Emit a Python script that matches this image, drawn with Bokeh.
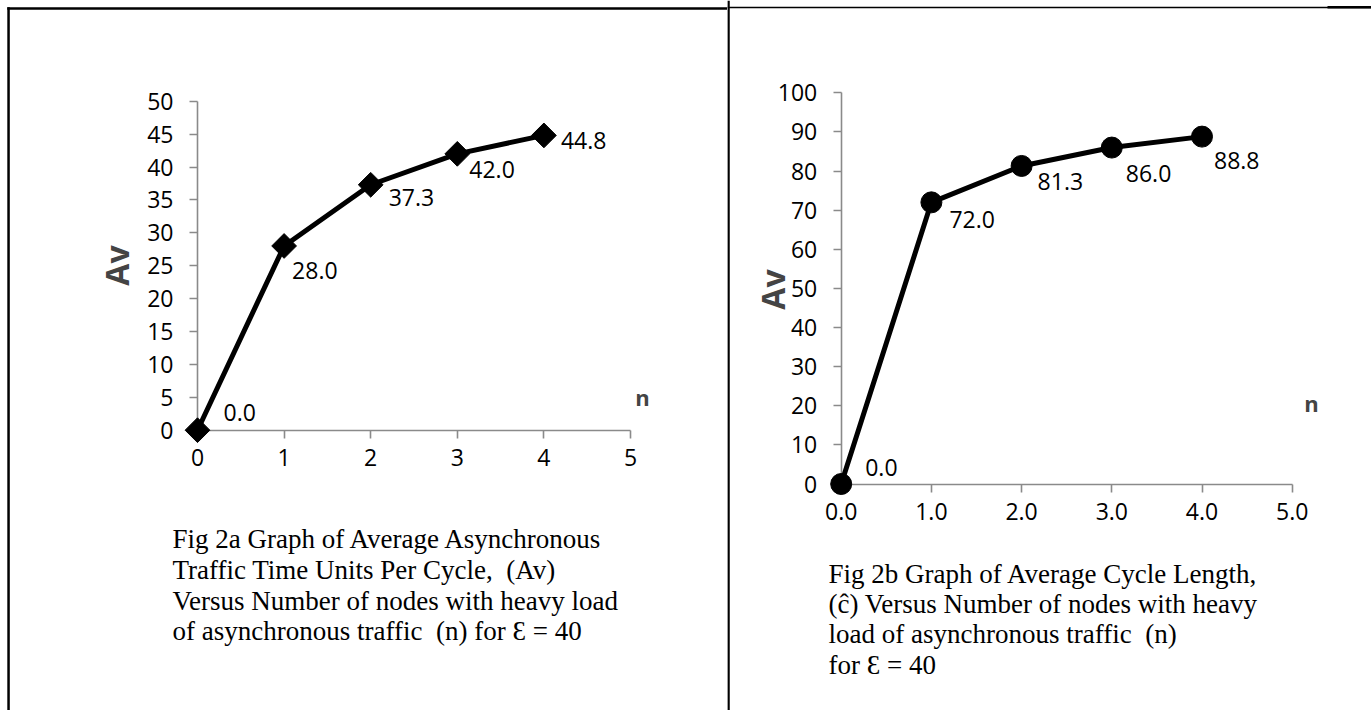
import numpy as np
from bokeh.plotting import figure
from bokeh.models import (Range1d, FixedTicker, Label, Span, BoxAnnotation,
                          ColumnDataSource, PrintfTickFormatter)
from bokeh.layouts import row
from bokeh.embed import file_html
from bokeh.resources import INLINE
from bokeh.core.properties import value

# ---------------- data ----------------
nodes_a = [0, 1, 2, 3, 4]
av_a = [0.0, 28.0, 37.3, 42.0, 44.8]
nodes_b = [0, 1, 2, 3, 4]
cycle_b = [0.0, 72.0, 81.3, 86.0, 88.8]

xticks_a = [0, 1, 2, 3, 4, 5]
yticks_a = [0, 5, 10, 15, 20, 25, 30, 35, 40, 45, 50]
xticks_b = [0, 1, 2, 3, 4, 5]
yticks_b = [0, 10, 20, 30, 40, 50, 60, 70, 80, 90, 100]

ylabel_a = "Av"
ylabel_b = "Av"
xlabel = "n"

NB = "\u00a0"
caption_a = [
    "Fig 2a Graph of Average Asynchronous",
    "Traffic Time Units Per Cycle," + NB + " (Av)",
    "Versus Number of nodes with heavy load",
    "of asynchronous traffic" + NB + " (n) for \u0190 = 40",
]
caption_b = [
    "Fig 2b Graph of Average Cycle Length,",
    "(c\u0302) Versus Number of nodes with heavy",
    "load of asynchronous traffic" + NB + " (n)",
    "for \u0190 = 40",
]

# ---------------- styles / layout ----------------
H = 710
SANS = "Open Sans"
SERIF = "Liberation Serif"
AXIS_COLOR = "#8a8a8a"
TICK_FONT = "23px"

# per-point data-label offsets (px, y down)
dx_a = [26, 8, 18, 12, 17]
dy_a = [-18, 25, 13, 16, 5]
dx_b = [24, 18, 16, 14, 12]
dy_b = [-17, 17, 16, 26, 24]


def make_panel(width, page_ox, page_oy, x0_page, y0_page, ppx, ppy):
    x0 = x0_page - page_ox
    y0 = y0_page - page_oy
    xr = Range1d(-x0 / ppx, (width - x0) / ppx)
    yr = Range1d(-(H - y0) / ppy, y0 / ppy)
    p = figure(width=width, height=H, x_range=xr, y_range=yr,
               output_backend="svg", toolbar_location=None,
               min_border=0, min_border_left=0, min_border_right=0,
               min_border_top=0, min_border_bottom=0)
    p.outline_line_color = None
    p.grid.visible = False
    p.background_fill_color = "white"
    p.border_fill_color = "white"

    def X(px):
        return (px - x0_page) / ppx

    def Y(py):
        return (y0_page - py) / ppy

    return p, X, Y


def style_axes(p, xt, yt, xfmt=None):
    xa = p.xaxis[0]
    ya = p.yaxis[0]
    xa.fixed_location = 0
    ya.fixed_location = 0
    xa.bounds = (min(xt), max(xt))
    ya.bounds = (min(yt), max(yt))
    xa.ticker = FixedTicker(ticks=xt)
    ya.ticker = FixedTicker(ticks=yt)
    if xfmt:
        xa.formatter = PrintfTickFormatter(format=xfmt)
    for ax in (xa, ya):
        ax.axis_line_color = AXIS_COLOR
        ax.axis_line_width = 1.6
        ax.major_tick_line_color = AXIS_COLOR
        ax.major_tick_line_width = 1.6
        ax.major_tick_in = 0
        ax.major_tick_out = 8
        ax.minor_tick_line_color = None
        ax.major_label_text_font = SANS
        ax.major_label_text_font_size = TICK_FONT
        ax.major_label_text_color = "#000000"
    xa.major_label_standoff = 11
    ya.major_label_standoff = 16


# ---------------- left panel (page origin 0,0) ----------------
pa, XA, YA = make_panel(727, 0, 0, 197.0, 429.7, (630.0 - 197.0) / 5, (429.7 - 100.7) / 50)
style_axes(pa, xticks_a, yticks_a)
src_a = ColumnDataSource(dict(x=nodes_a, y=av_a, t=[f"{v:.1f}" for v in av_a], dx=dx_a, dy=dy_a))
pa.line("x", "y", source=src_a, line_color="black", line_width=5, level="overlay")
pa.scatter("x", "y", source=src_a, marker="square", angle=np.pi / 4, size=17.5,
           fill_color="black", line_color="black", level="overlay")
pa.text("x", "y", text="t", x_offset="dx", y_offset="dy", source=src_a,
        text_font=value(SANS), text_font_size=value(TICK_FONT),
        text_align="left", text_baseline="middle", text_color="black")
pa.add_layout(Label(x=XA(116), y=YA(265), text=ylabel_a, angle=np.pi / 2,
                    text_font=SANS, text_font_style="bold", text_font_size="32px",
                    text_align="center", text_baseline="middle"))
pa.add_layout(Label(x=XA(642), y=YA(396), text=xlabel, text_font=SANS,
                    text_font_style="bold", text_font_size="22px",
                    text_align="center", text_baseline="middle"))
for i, line in enumerate(caption_a):
    pa.add_layout(Label(x=XA(172), y=YA(538.5 + 30.8 * i), text=line, text_font=SERIF,
                        text_font_size="27px", text_baseline="alphabetic",
                        text_align="left", text_color="black"))
# cell borders
pa.add_layout(BoxAnnotation(left=XA(6.8), right=XA(9.3), top=YA(6.8),
                            fill_color="black", fill_alpha=1, line_color=None))
pa.add_layout(BoxAnnotation(left=XA(6.8), top=YA(6.8), bottom=YA(9.3),
                            fill_color="black", fill_alpha=1, line_color=None))

# ---------------- right panel ----------------
pb, XB, YB = make_panel(644, 727, 0, 840.7, 483.5, (1291.7 - 840.7) / 5, (483.5 - 92.3) / 100)
style_axes(pb, xticks_b, yticks_b, xfmt="%.1f")
src_b = ColumnDataSource(dict(x=nodes_b, y=cycle_b, t=[f"{v:.1f}" for v in cycle_b], dx=dx_b, dy=dy_b))
pb.line("x", "y", source=src_b, line_color="black", line_width=5, level="overlay")
pb.scatter("x", "y", source=src_b, marker="circle", size=21,
           fill_color="black", line_color="black", level="overlay")
pb.text("x", "y", text="t", x_offset="dx", y_offset="dy", source=src_b,
        text_font=value(SANS), text_font_size=value(TICK_FONT),
        text_align="left", text_baseline="middle", text_color="black")
pb.add_layout(Label(x=XB(772), y=YB(289), text=ylabel_b, angle=np.pi / 2,
                    text_font=SANS, text_font_style="bold", text_font_size="32px",
                    text_align="center", text_baseline="middle"))
pb.add_layout(Label(x=XB(1311), y=YB(402), text=xlabel, text_font=SANS,
                    text_font_style="bold", text_font_size="22px",
                    text_align="center", text_baseline="middle"))
for i, line in enumerate(caption_b):
    pb.add_layout(Label(x=XB(828), y=YB(573 + 30.4 * i), text=line, text_font=SERIF,
                        text_font_size="27px", text_baseline="alphabetic",
                        text_align="left", text_color="black"))
pb.add_layout(Span(location=XB(728), dimension="height", line_color="black", line_width=2.5))
pb.add_layout(Span(location=YB(7), dimension="width", line_color="black", line_width=1.6))
pb.add_layout(BoxAnnotation(left=XB(1327), top=YB(5.5), bottom=YB(8),
                            fill_color="black", fill_alpha=1, line_color=None))

layout = row(pa, pb, spacing=0)
open("out.html", "w").write(file_html(layout, INLINE))
